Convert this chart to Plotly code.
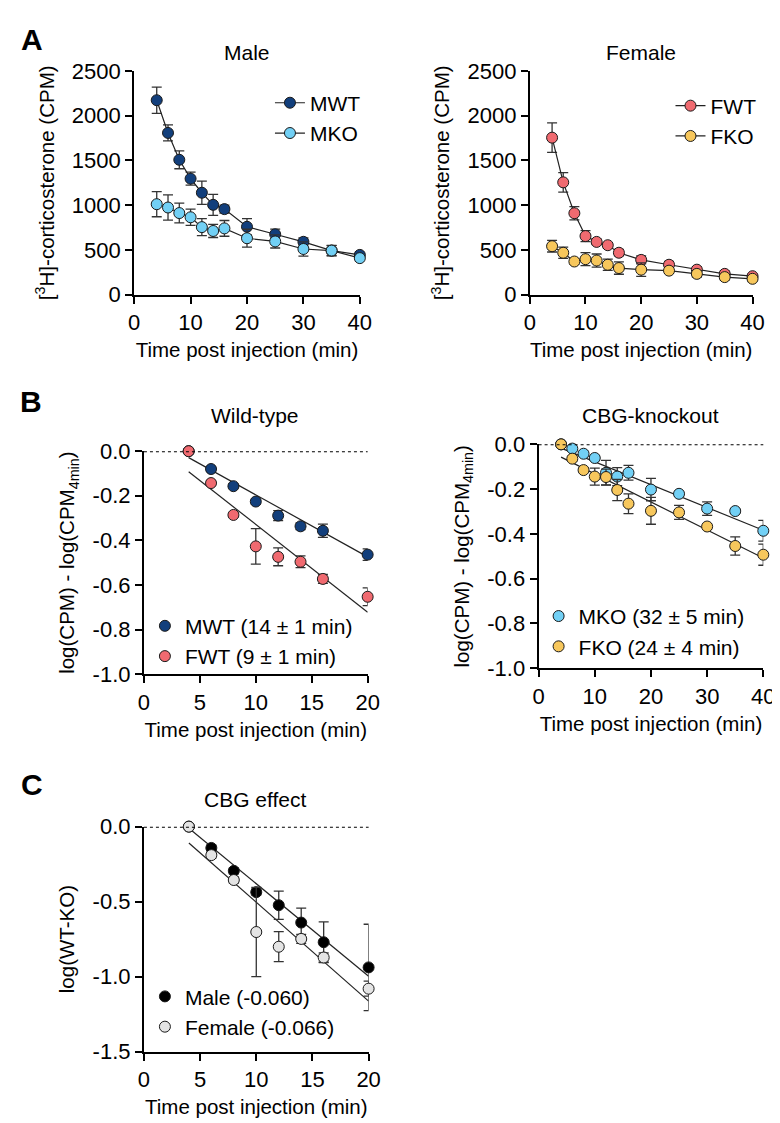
import plotly.graph_objects as go

# ---- data ----
time_a = [4, 6, 8, 10, 12, 14, 16, 20, 25, 30, 35, 40]
mwt = [2172, 1807, 1507, 1296, 1139, 1004, 956, 759, 675, 591, 493, 445]
mwt_err = [146, 90, 100, 73, 130, 117, 45, 90, 58, 45, 55, 30]
mko = [1011, 974, 912, 865, 755, 712, 741, 631, 595, 511, 493, 409]
mko_err = [140, 140, 110, 90, 95, 73, 88, 100, 73, 80, 58, 30]
fwt = [1754, 1255, 910, 655, 590, 553, 469, 389, 335, 280, 233, 207]
fwt_err = [164, 109, 73, 62, 30, 30, 36, 44, 36, 30, 30, 22]
fko = [542, 469, 371, 397, 382, 335, 298, 280, 269, 233, 197, 178]
fko_err = [65, 62, 30, 73, 73, 62, 69, 76, 30, 36, 30, 30]

time_b = [4, 6, 8, 10, 12, 14, 16, 20]
mwt_log = [0, -0.080, -0.157, -0.226, -0.289, -0.337, -0.357, -0.464]
mwt_log_err = [0, 0.01, 0.01, 0.01, 0.022, 0.015, 0.03, 0.026]
fwt_log = [0, -0.143, -0.286, -0.427, -0.474, -0.496, -0.573, -0.653]
fwt_log_err = [0, 0.01, 0.01, 0.08, 0.04, 0.026, 0.02, 0.04]

mko_log = [0, -0.019, -0.042, -0.061, -0.127, -0.144, -0.127, -0.202, -0.221, -0.287, -0.298, -0.386]
mko_log_err = [0, 0.01, 0.01, 0.01, 0.055, 0.04, 0.033, 0.05, 0.01, 0.03, 0.01, 0.046]
fko_log = [0, -0.064, -0.115, -0.144, -0.146, -0.204, -0.265, -0.297, -0.304, -0.367, -0.454, -0.493]
fko_log_err = [0, 0.01, 0.01, 0.038, 0.035, 0.047, 0.044, 0.06, 0.031, 0.01, 0.041, 0.047]

male_eff = [0, -0.142, -0.295, -0.437, -0.524, -0.640, -0.771, -0.939]
male_eff_err = [0, 0.02, 0.02, 0.02, 0.094, 0.096, 0.136, 0.288]
female_eff = [0, -0.190, -0.356, -0.703, -0.801, -0.749, -0.873, -1.081]
female_eff_err = [0, 0.02, 0.02, 0.298, 0.10, 0.03, 0.03, 0.05]

# regression lines (end points)
fit_x_wt = [4, 20]
mwt_fit = [-0.029, -0.474]
fwt_fit = [-0.092, -0.723]
fit_x_ko = [4, 40]
mko_fit = [-0.017, -0.384]
fko_fit = [-0.057, -0.508]
fit_x_c = [4, 20]
male_fit = [-0.011, -0.998]
female_fit = [-0.109, -1.164]

# tick labels (plain hyphen minus, as in the original)
log_ticks = [0, -0.2, -0.4, -0.6, -0.8, -1.0]
log_tick_text = ["0.0", "-0.2", "-0.4", "-0.6", "-0.8", "-1.0"]
eff_ticks = [0, -0.5, -1.0, -1.5]
eff_tick_text = ["0.0", "-0.5", "-1.0", "-1.5"]

C_MWT = "#123f7c"
C_MKO = "#72d0f5"
C_FWT = "#f06a70"
C_FKO = "#f7c75c"
FONT = "Arial, Liberation Sans, sans-serif"
W, H = 780, 1123

fig = go.Figure()


def pts(x, y, err, color, name, ax, legend, mode="markers", show=True):
    fig.add_trace(go.Scatter(
        x=x, y=y, mode=mode, name=name, xaxis="x" + ax, yaxis="y" + ax,
        legend=legend, showlegend=show, cliponaxis=False,
        line=dict(color="#222", width=1.2),
        marker=dict(size=11, color=color, line=dict(color="#1a1a1a", width=1)),
        error_y=dict(type="data", array=err, color="#333", thickness=1.3, width=5),
    ))


def fit(x, y, ax):
    fig.add_trace(go.Scatter(x=x, y=y, mode="lines", xaxis="x" + ax, yaxis="y" + ax,
                             showlegend=False, line=dict(color="#222", width=1.2),
                             hoverinfo="skip"))


# A
pts(time_a, mwt, mwt_err, C_MWT, "MWT", "", "legend", "lines+markers")
pts(time_a, mko, mko_err, C_MKO, "MKO", "", "legend", "lines+markers")
pts(time_a, fwt, fwt_err, C_FWT, "FWT", "2", "legend2", "lines+markers")
pts(time_a, fko, fko_err, C_FKO, "FKO", "2", "legend2", "lines+markers")
# B
fit(fit_x_wt, mwt_fit, "3")
fit(fit_x_wt, fwt_fit, "3")
pts(time_b, mwt_log, mwt_log_err, C_MWT, "MWT (14 ± 1 min)", "3", "legend3")
pts(time_b, fwt_log, fwt_log_err, C_FWT, "FWT (9 ± 1 min)", "3", "legend3")
fit(fit_x_ko, mko_fit, "4")
fit(fit_x_ko, fko_fit, "4")
pts(time_a, mko_log, mko_log_err, C_MKO, "MKO (32 ± 5 min)", "4", "legend4")
pts(time_a, fko_log, fko_log_err, C_FKO, "FKO (24 ± 4 min)", "4", "legend4")
# C
fit(fit_x_c, male_fit, "5")
fit(fit_x_c, female_fit, "5")
pts(time_b, male_eff, male_eff_err, "#000000", "Male (-0.060)", "5", "legend5")
pts(time_b, female_eff, female_eff_err, "#e4e4e4", "Female (-0.066)", "5", "legend5")


def px_x(a, b):
    return [a / W, b / W]


def px_y(top, bottom):
    return [1 - bottom / H, 1 - top / H]


def xax(dom, rng, dtick, anchor):
    return dict(domain=px_x(*dom), range=rng, dtick=dtick, anchor=anchor,
                showline=True, linecolor="#000", linewidth=2, ticks="outside",
                ticklen=7, tickwidth=2, tickcolor="#000", showgrid=False, zeroline=False,
                tickfont=dict(size=22, color="#000"),
                title=dict(text="Time post injection (min)", font=dict(size=20.5, color="#000"), standoff=9))


def yax(dom, rng, anchor, title, dtick=None, tickvals=None, ticktext=None):
    d = dict(domain=px_y(*dom), range=rng, anchor=anchor,
             showline=True, linecolor="#000", linewidth=2, ticks="outside",
             ticklen=7, tickwidth=2, tickcolor="#000", showgrid=False, zeroline=False,
             tickfont=dict(size=22, color="#000"),
             title=dict(text=title, font=dict(size=20.5, color="#000"), standoff=12))
    if tickvals is not None:
        d.update(tickmode="array", tickvals=tickvals, ticktext=ticktext)
    else:
        d["dtick"] = dtick
    return d


cort = "[<sup>3</sup>H]-corticosterone (CPM)"
logt = "log(CPM) - log(CPM<sub>4min</sub>)"

legend_style = dict(font=dict(size=21, color="#000", family=FONT), bgcolor="rgba(0,0,0,0)",
                    xanchor="left", yanchor="top", tracegroupgap=0, itemclick=False)


def leg(xpx, ypx):
    d = dict(legend_style)
    d.update(x=xpx / W, y=1 - ypx / H)
    return d


fig.update_layout(
    width=W, height=H, margin=dict(l=0, r=0, t=0, b=0),
    paper_bgcolor="white", plot_bgcolor="white",
    font=dict(family=FONT, color="#000"),
    xaxis=xax((123, 354), [0, 40], 10, "y"),
    yaxis=yax((52, 281), [0, 2500], "x", cort, dtick=500),
    xaxis2=xax((528, 756), [0, 40], 10, "y2"),
    yaxis2=yax((52, 281), [0, 2500], "x2", cort, dtick=500),
    xaxis3=xax((133, 362), [0, 20], 5, "y3"),
    yaxis3=yax((441, 669), [-1, 0], "x3", logt, tickvals=log_ticks, ticktext=log_tick_text),
    xaxis4=xax((537, 767), [0, 40], 10, "y4"),
    yaxis4=yax((434, 663), [-1, 0], "x4", logt, tickvals=log_ticks, ticktext=log_tick_text),
    xaxis5=xax((133, 363), [0, 20], 5, "y5"),
    yaxis5=yax((825, 1055), [-1.5, 0], "x5", "log(WT-KO)", tickvals=eff_ticks, ticktext=eff_tick_text),
    legend=leg(262, 64),
    legend2=leg(672, 67),
    legend3=leg(134, 599),
    legend4=leg(537, 589),
    legend5=leg(134, 978),
)

for ax in ["3", "4", "5"]:
    fig.add_shape(type="line", xref="x" + ax + " domain", yref="y" + ax,
                  x0=0, x1=1, y0=0, y1=0, line=dict(color="#000", width=2, dash="dot"))

titles = [("Male", 239, 33), ("Female", 642, 33), ("Wild-type", 247, 405),
          ("CBG-knockout", 652, 405), ("CBG effect", 247, 797)]
for t, x, y in titles:
    fig.add_annotation(text=t, x=x / W, y=1 - y / H, xref="paper", yref="paper",
                       xanchor="center", yanchor="middle",
                       showarrow=False, font=dict(size=21, color="#000"))

for t, x, y in [("A", 18, 20), ("B", 17, 390), ("C", 18, 782)]:
    fig.add_annotation(text="<b>" + t + "</b>", x=x / W, y=1 - y / H, xref="paper", yref="paper",
                       xanchor="center", yanchor="middle",
                       showarrow=False, font=dict(size=30, color="#000"))

fig.write_html("out.html")
